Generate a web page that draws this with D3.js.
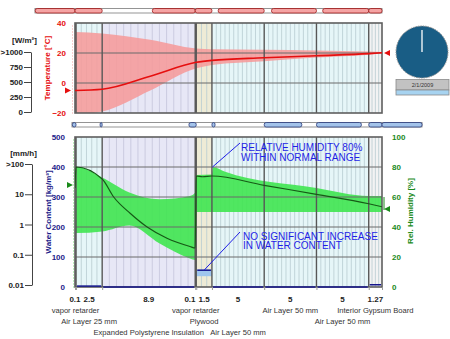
<!DOCTYPE html>
<html><head><meta charset="utf-8">
<script src="https://cdn.jsdelivr.net/npm/d3@7"></script>
<style>
html,body{margin:0;padding:0;background:#fff;}
svg{display:block;font-family:"Liberation Sans",Arial,sans-serif;}
</style></head><body>
<svg id="chart" width="450" height="339"></svg>
<script>
// Wall assembly, exterior to interior (thickness in cm)
const layerNames = ["vapor retarder", "Air Layer 25 mm", "Expanded Polystyrene Insulation", "vapor retarder",
  "Plywood", "Air Layer 50 mm", "Air Layer 50 mm", "Air Layer 50 mm", "Interior Gypsum Board"];
const layerThickness = [0.1, 2.5, 8.9, 0.1, 1.5, 5, 5, 5, 1.27];
const layerTickLabels = ["0.1", "2.5", "8.9", "0.1", "1.5", "5", "5", "5", "1.27"];

// Temperature profile across the wall [°C]
const tempPos  = [0, 2.6, 7.2, 11.6, 13.1, 18.1, 23.1, 28.1, 29.37];
const tempMean = [-5, -4.2, 4.5, 13.8, 15.1, 16.8, 18.2, 19.6, 20.2];
const tempMax  = [34, 33, 28.8, 23, 22.5, 22.2, 21.7, 21.0, 20.7];
const tempMin  = [-21, -19, -5, 9.8, 12, 14.5, 17, 18.9, 19.7];

// Relative humidity profile [%]
const rhMeanPos = [0, 0.1, 2.6, 3.7, 5.3, 6.9, 8.8, 11.0, 11.5, 11.6, 12.2, 13.1, 18.1, 23.1, 28.1, 29.37];
const rhMean    = [66, 80, 72, 60, 49, 40, 32.5, 27, 26, 74, 73.5, 74, 67.8, 61.8, 55.5, 53.5];
const rhBandPos = [0, 0.1, 2.6, 5.2, 8.1, 11.0, 11.5, 11.6, 13.1, 13.2, 14.3, 23.1, 28.1, 29.37];
const rhMax     = [80, 80, 73, 63, 58.5, 60.7, 63, 74.7, 75, 80, 77, 66, 60.7, 60.7];
const rhMin     = [36, 36, 37, 41, 29, 19, 18, 50, 50, 50, 50, 50, 50, 50];

// Water content per layer [kg/m³]
const wcMean = [0, 3, 0.4, 0, 56, 0.3, 0.3, 0.3, 7.5];
const wcMin  = [0, 2, 0.3, 0, 36, 0.2, 0.2, 0.2, 6.5];
const wcMax  = [0, 4, 0.5, 0, 58, 0.4, 0.4, 0.4, 8.5];

// Boundary conditions
const outdoorTemp = -5, indoorTemp = 20, outdoorRH = 68, indoorRH = 52;

// Flux indicator bars (extent along the wall, cm)
const heatFluxBar = [[-3.8, 0], [0, 2.6], [7.4, 11.5], [11.5, 13.1], [13.7, 18.1], [18.8, 23.1], [23.7, 28.1], [28.1, 29.37]];
const moistureFluxBar = [[-0.25, 0.1], [2.4, 2.6], [10.9, 11.6], [13.1, 13.4], [18.1, 21.7], [23.1, 27.4], [28.1, 29.37], [29.37, 33.2]];

// Axis ticks
const tempTicks = [-20, 0, 20, 40];
const wcTicks = [0, 100, 200, 300, 400, 500];
const rhTicks = [0, 20, 40, 60, 80, 100];
const radiationLabels = [">1000", "750", "500", "250", "0"];
const rainLabels = [">100", "10", "1", "0.1", "0.01"];
const dateLabel = "2/1/2009";

const svg = d3.select("#chart");

const bounds = [0];
layerThickness.forEach(t => bounds.push(bounds[bounds.length - 1] + t));
const total = bounds[bounds.length - 1];

const x = d3.scaleLinear().domain([0, total]).range([75, 382]);
const yT = d3.scaleLinear().domain([-20, 40]).range([113, 23]);
const yW = d3.scaleLinear().domain([0, 500]).range([287, 137]);
const yR = d3.scaleLinear().domain([0, 100]).range([287, 137]);

const layerColour = n => n.startsWith("vapor") ? "#707070"
  : n.startsWith("Air") ? "#e6f6f8"
  : n.startsWith("Expanded") ? "#e7e7f6"
  : n === "Plywood" ? "#eeebd6" : "#f3f3f3";
const meshCells = [0, 5, 13, 0, 3, 12, 12, 12, 4];

// clip paths for the two plot areas
const defs = svg.append("defs");
defs.append("clipPath").attr("id", "clipTop").append("rect")
  .attr("x", x(0)).attr("y", yT(40)).attr("width", x(total) - x(0)).attr("height", yT(-20) - yT(40));
defs.append("clipPath").attr("id", "clipBot").append("rect")
  .attr("x", x(0)).attr("y", yW(500)).attr("width", x(total) - x(0)).attr("height", yW(0) - yW(500));

function panelBackground(yTop, yBot) {
  const g = svg.append("g");
  layerNames.forEach((n, i) => {
    g.append("rect").attr("x", x(bounds[i])).attr("y", yTop)
      .attr("width", x(bounds[i + 1]) - x(bounds[i])).attr("height", yBot - yTop)
      .attr("fill", layerColour(n));
    const cells = meshCells[i];
    for (let k = 1; k < cells; k++) {
      const xv = x(bounds[i] + k * layerThickness[i] / cells);
      g.append("line").attr("x1", xv).attr("x2", xv).attr("y1", yTop).attr("y2", yBot)
        .attr("stroke", n.startsWith("Expanded") ? "#c4c4da" : "#b8cbd0").attr("stroke-width", 0.8);
    }
  });
  return g;
}
function panelFrame(yTop, yBot, scale, ticks) {
  const g = svg.append("g");
  ticks.slice(1, -1).forEach(t => {
    g.append("line").attr("x1", x(0)).attr("x2", x(total)).attr("y1", scale(t)).attr("y2", scale(t))
      .attr("stroke", "#6a6a6a").attr("stroke-width", 1);
  });
  bounds.slice(1, -1).forEach(b => {
    g.append("line").attr("x1", x(b)).attr("x2", x(b)).attr("y1", yTop).attr("y2", yBot)
      .attr("stroke", "#575757").attr("stroke-width", 1.4);
  });
  g.append("rect").attr("x", x(0)).attr("y", yTop).attr("width", x(total) - x(0)).attr("height", yBot - yTop)
    .attr("fill", "none").attr("stroke", "#5e5e5e").attr("stroke-width", 1.6);
}

// ---------- temperature panel ----------
panelBackground(yT(40), yT(-20));
const tempData = tempPos.map((p, i) => ({p, mean: tempMean[i], max: tempMax[i], min: tempMin[i]}));
svg.append("path").datum(tempData).attr("clip-path", "url(#clipTop)")
  .attr("d", d3.area().x(d => x(d.p)).y0(d => yT(d.min)).y1(d => yT(d.max)).curve(d3.curveMonotoneX))
  .attr("fill", "#f69a9a").attr("opacity", 0.87);
panelFrame(yT(40), yT(-20), yT, tempTicks);
svg.append("path").datum(tempData).attr("clip-path", "url(#clipTop)")
  .attr("d", d3.line().x(d => x(d.p)).y(d => yT(d.mean)).curve(d3.curveMonotoneX))
  .attr("fill", "none").attr("stroke", "#e60f0f").attr("stroke-width", 1.6);

// ---------- moisture panel ----------
panelBackground(yW(500), yW(0));
const rhBand = rhBandPos.map((p, i) => ({p, max: rhMax[i], min: rhMin[i]}));
svg.append("path").datum(rhBand).attr("clip-path", "url(#clipBot)")
  .attr("d", d3.area().x(d => x(d.p)).y0(d => yR(d.min)).y1(d => yR(d.max)).curve(d3.curveMonotoneX))
  .attr("fill", "#3fe650").attr("opacity", 0.9);
// water content per layer
layerNames.forEach((n, i) => {
  const x0 = x(bounds[i]), w = x(bounds[i + 1]) - x0;
  if (wcMax[i] - wcMin[i] > 0) {
    svg.append("rect").attr("x", x0).attr("width", w)
      .attr("y", yW(wcMax[i])).attr("height", yW(wcMin[i]) - yW(wcMax[i]))
      .attr("fill", "#9fc6ee");
  }
});
panelFrame(yW(500), yW(0), yW, wcTicks);
layerNames.forEach((n, i) => {
  if (wcMean[i] > 0) {
    svg.append("line").attr("x1", x(bounds[i]) + 1).attr("x2", x(bounds[i + 1]) - 1)
      .attr("y1", yW(wcMean[i])).attr("y2", yW(wcMean[i]))
      .attr("stroke", "#16168c").attr("stroke-width", 1.5);
  }
});
const rhLine = rhMeanPos.map((p, i) => ({p, v: rhMean[i]}));
svg.append("path").datum(rhLine).attr("clip-path", "url(#clipBot)")
  .attr("d", d3.line().x(d => x(d.p)).y(d => yR(d.v)).curve(d3.curveMonotoneX))
  .attr("fill", "none").attr("stroke", "#165a16").attr("stroke-width", 1.2);

// ---------- axes ----------
function styleAxis(g, colour, size) {
  g.attr("font-family", null).attr("font-size", null);
  g.selectAll("text").attr("fill", colour).style("font-size", size + "px").style("font-weight", "bold");
}
const tAxis = svg.append("g").attr("transform", "translate(72,0)")
  .call(d3.axisLeft(yT).tickValues(tempTicks).tickSize(0).tickPadding(6).tickSizeOuter(0));
tAxis.select(".domain").attr("stroke", "#f2a3a3").attr("stroke-dasharray", "1,2");
styleAxis(tAxis, "#e60f0f", 8);

const wAxis = svg.append("g").attr("transform", "translate(73,0)")
  .call(d3.axisLeft(yW).tickValues(wcTicks).tickSize(0).tickPadding(8).tickSizeOuter(0));
wAxis.select(".domain").attr("stroke", "#7fe27f").attr("stroke-dasharray", "1,2");
styleAxis(wAxis, "#1c1c8a", 8);

const rAxis = svg.append("g").attr("transform", "translate(386,0)")
  .call(d3.axisRight(yR).tickValues(rhTicks).tickSize(0).tickPadding(6).tickSizeOuter(0));
rAxis.select(".domain").remove();
styleAxis(rAxis, "#1a8a1a", 8);

svg.append("text").attr("transform", `translate(50,${yT(10)}) rotate(-90)`)
  .attr("text-anchor", "middle").attr("fill", "#e60f0f").style("font-size", "8px").style("font-weight", "bold")
  .text("Temperature [°C]");
svg.append("text").attr("transform", `translate(50.5,212) rotate(-90)`)
  .attr("text-anchor", "middle").attr("fill", "#1c1c8a").style("font-size", "8px").style("font-weight", "bold")
  .text("Water Content [kg/m³]");
svg.append("text").attr("transform", `translate(413,211) rotate(-90)`)
  .attr("text-anchor", "middle").attr("fill", "#1a8a1a").style("font-size", "8px").style("font-weight", "bold")
  .text("Rel. Humidity [%]");

// radiation and rain scales
const radScale = d3.scalePoint().domain(radiationLabels).range([52, 112]);
const radAxis = svg.append("g").attr("transform", "translate(31,0)")
  .call(d3.axisLeft(radScale).tickSize(7).tickPadding(1).tickSizeOuter(0));
radAxis.selectAll("line,path").attr("stroke", "#444");
styleAxis(radAxis, "#222", 8);
svg.append("text").attr("x", 24.5).attr("y", 43).attr("text-anchor", "middle")
  .attr("fill", "#222").style("font-size", "8px").style("font-weight", "bold").text("[W/m²]");

const rainScale = d3.scalePoint().domain(rainLabels).range([164, 285]);
const rainAxis = svg.append("g").attr("transform", "translate(32,0)")
  .call(d3.axisLeft(rainScale).tickSize(7).tickPadding(1).tickSizeOuter(0));
rainAxis.selectAll("line,path").attr("stroke", "#444");
styleAxis(rainAxis, "#222", 8);
svg.append("text").attr("x", 23.5).attr("y", 156).attr("text-anchor", "middle")
  .attr("fill", "#222").style("font-size", "8px").style("font-weight", "bold").text("[mm/h]");

// boundary condition markers
const tri = (tipX, tipY, dir) => `M${tipX},${tipY}L${tipX - 6 * dir},${tipY - 3}L${tipX - 6 * dir},${tipY + 3}Z`;
svg.append("path").attr("d", tri(71, yT(outdoorTemp), 1)).attr("fill", "#e60f0f");
svg.append("path").attr("d", tri(384, yT(indoorTemp), -1)).attr("fill", "#e60f0f");
svg.append("path").attr("d", tri(73, yR(outdoorRH), 1)).attr("fill", "#1a8a1a");
svg.append("path").attr("d", `M384,${yR(60)}V${yR(indoorRH) + 1}`).attr("stroke", "#1a8a1a").attr("stroke-width", 1);
svg.append("path").attr("d", tri(384, yR(indoorRH), -1)).attr("fill", "#1a8a1a");

// bottom axis: ticks at layer boundaries, labels at layer centres
const bAxis = svg.append("g").attr("transform", `translate(0,${yW(0)})`)
  .call(d3.axisBottom(x).tickValues(bounds).tickSize(3).tickFormat(""));
bAxis.select(".domain").remove();
bAxis.selectAll("line").attr("stroke", "#999");
const tickText = svg.append("g").selectAll("text").data(layerTickLabels).join("text")
  .attr("y", 302).attr("text-anchor", "middle").attr("fill", "#222")
  .style("font-size", "8px").style("font-weight", "bold").text(d => d);
const tPos = layerTickLabels.map((d, i) => x((bounds[i] + bounds[i + 1]) / 2));
const tW = tickText.nodes().map(n => n.getComputedTextLength());
for (let i = 1; i < tPos.length; i++) {
  const need = (tW[i - 1] + tW[i]) / 2 + 3;
  if (tPos[i] - tPos[i - 1] < need) tPos[i - 1] = tPos[i] - need;
}
tickText.attr("x", (d, i) => tPos[i]);

// layer names in staggered rows
const rowBase = [313, 324, 335];
const rowEnd = [-Infinity, -Infinity, -Infinity];
layerNames.forEach((n, i) => {
  const cx = x((bounds[i] + bounds[i + 1]) / 2);
  const t = svg.append("text").attr("x", cx).attr("text-anchor", "middle").attr("fill", "#333")
    .style("font-size", "7.6px").text(n);
  const w = t.node().getComputedTextLength();
  let r = rowEnd.findIndex(e => e + 4 < cx - w / 2);
  if (r < 0) r = rowBase.length - 1;
  rowEnd[r] = cx + w / 2;
  t.attr("y", rowBase[r]);
});

// flux indicator bars
function fluxBar(y, ext, segs, fill, stroke) {
  svg.append("rect").attr("x", x(ext[0])).attr("y", y).attr("width", x(ext[1]) - x(ext[0])).attr("height", 4.5)
    .attr("fill", "#fff").attr("stroke", "#7a7a7a").attr("stroke-width", 0.8);
  segs.forEach(s => {
    svg.append("rect").attr("x", x(s[0])).attr("y", y).attr("width", x(s[1]) - x(s[0])).attr("height", 4.5)
      .attr("rx", 2).attr("fill", fill).attr("stroke", stroke).attr("stroke-width", 0.8);
  });
}
fluxBar(8.5, [-3.83, total], heatFluxBar, "#f5a3a3", "#a01818");
fluxBar(122.5, [-0.29, 33.2], moistureFluxBar, "#a3c3ea", "#2a3a7a");

// annotations
const annot = svg.append("g").attr("fill", "#1f1fe6").style("font-size", "10px");
annot.append("line").attr("x1", x(13.15)).attr("y1", yR(80)).attr("x2", 240).attr("y2", 143)
  .attr("stroke", "#1f1fe6");
annot.append("text").attr("x", 241).attr("y", 151).text("RELATIVE HUMIDITY 80%");
annot.append("text").attr("x", 241).attr("y", 160.5).text("WITHIN NORMAL RANGE");
annot.append("line").attr("x1", x((bounds[4] + bounds[5]) / 2)).attr("y1", yW(wcMean[4]))
  .attr("x2", 240).attr("y2", 232).attr("stroke", "#1f1fe6");
annot.append("text").attr("x", 243).attr("y", 239.5).text("NO SIGNIFICANT INCREASE");
annot.append("text").attr("x", 243).attr("y", 249).text("IN WATER CONTENT");

// simulation clock
svg.append("circle").attr("cx", 422).attr("cy", 52).attr("r", 26)
  .attr("fill", "#195d85").attr("stroke", "#8a8a8a").attr("stroke-dasharray", "1.5,1").attr("stroke-width", 1);
svg.append("line").attr("x1", 422).attr("y1", 52).attr("x2", 422).attr("y2", 30)
  .attr("stroke", "#fff").attr("stroke-width", 1.3);
svg.append("rect").attr("x", 396).attr("y", 79.5).attr("width", 53).attr("height", 10.5)
  .attr("fill", "#c2c2c2").attr("stroke", "#8a8a8a").attr("stroke-width", 0.8);
svg.append("text").attr("x", 422.5).attr("y", 87).attr("text-anchor", "middle")
  .attr("fill", "#333").style("font-size", "5.5px").text(dateLabel);
svg.append("rect").attr("x", 396).attr("y", 90).attr("width", 53).attr("height", 5)
  .attr("fill", "#a7d3f0").attr("stroke", "#8a8a8a").attr("stroke-width", 0.8);
</script>
</body></html>
